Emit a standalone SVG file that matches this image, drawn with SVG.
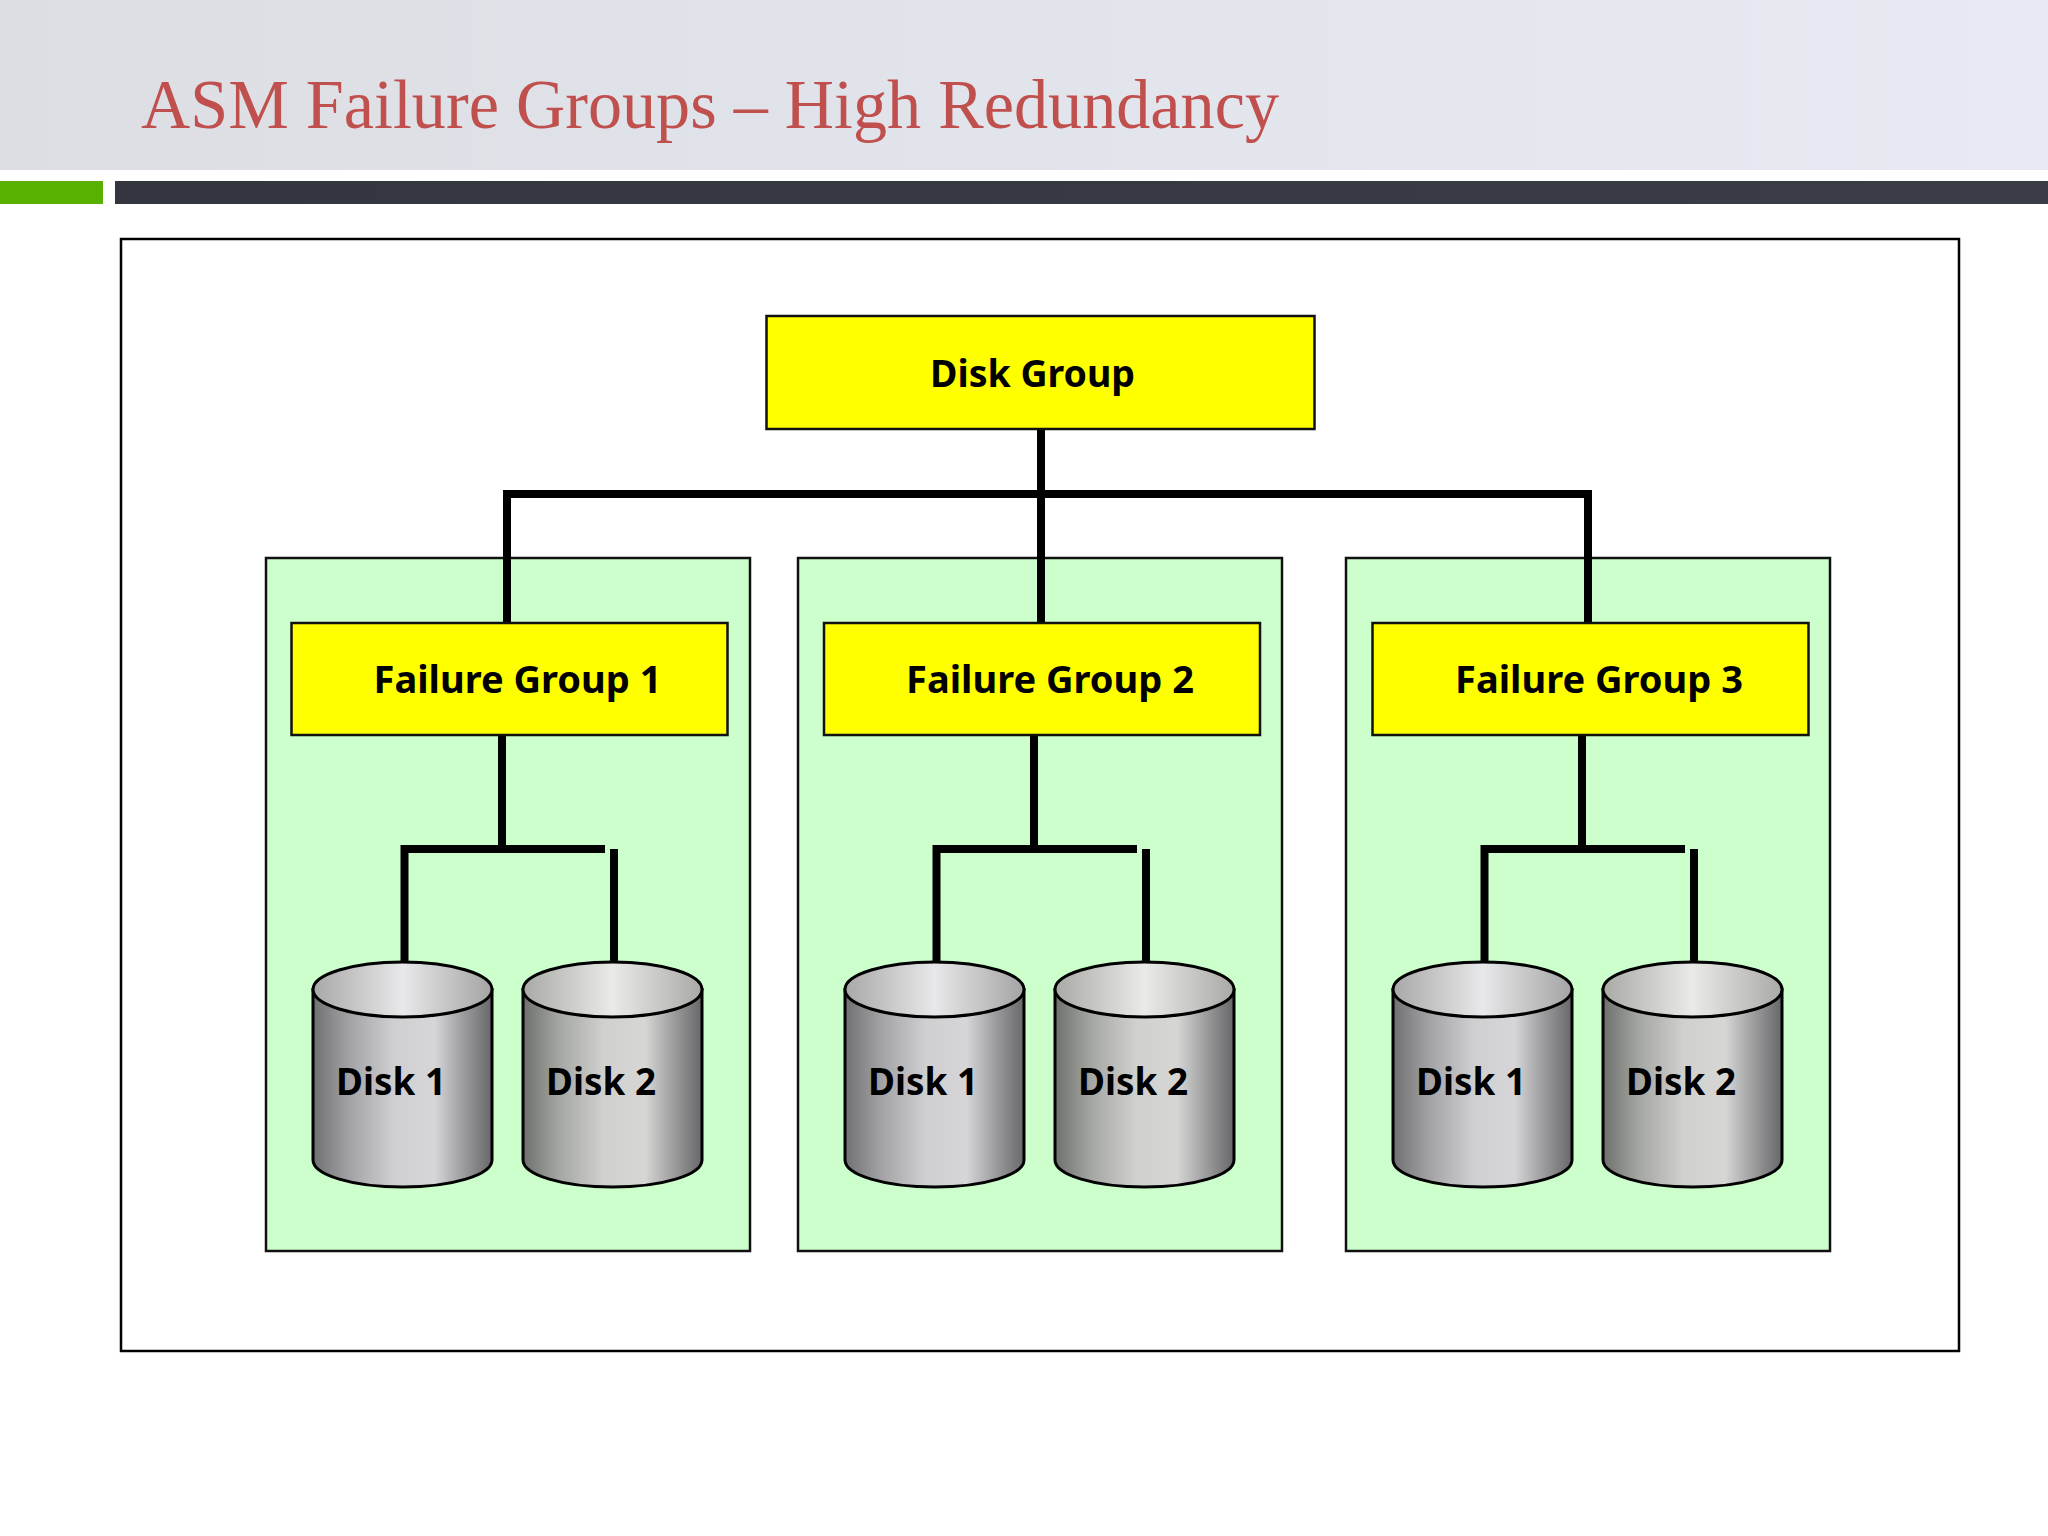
<svg xmlns="http://www.w3.org/2000/svg" width="2048" height="1536" viewBox="0 0 2048 1536">
<style>
.panel{fill:#ccffcc;stroke:#111;stroke-width:2.5}
.box{fill:#ffff00;stroke:#111;stroke-width:2.5}
.wire{fill:none;stroke:#000;stroke-width:8}
.lbl{font-family:"Noto Sans","Open Sans",sans-serif;font-weight:700;font-size:38px;fill:#000}
.cyl{stroke:#000;stroke-width:3}
</style>
<defs>
<linearGradient id="hdr" x1="0" y1="0" x2="1" y2="0"><stop offset="0" stop-color="#dcdee3"/><stop offset="0.5" stop-color="#e2e4ec"/><stop offset="1" stop-color="#e8eaf3"/></linearGradient>
<linearGradient id="bar" x1="0" y1="0" x2="1" y2="0"><stop offset="0" stop-color="#33363f"/><stop offset="1" stop-color="#3a3d45"/></linearGradient>
<linearGradient id="body1" x1="0" y1="0" x2="1" y2="0"><stop offset="0" stop-color="#707072"/><stop offset="0.2" stop-color="#a2a2a4"/><stop offset="0.45" stop-color="#cfcfd1"/><stop offset="0.68" stop-color="#d6d6d8"/><stop offset="0.85" stop-color="#99999b"/><stop offset="1" stop-color="#68686a"/></linearGradient>
<linearGradient id="body2" x1="0" y1="0" x2="1" y2="0"><stop offset="0" stop-color="#6d706c"/><stop offset="0.2" stop-color="#a4a6a2"/><stop offset="0.45" stop-color="#d0d1ce"/><stop offset="0.68" stop-color="#d6d7d5"/><stop offset="0.85" stop-color="#9a9a9b"/><stop offset="1" stop-color="#67676a"/></linearGradient>
<linearGradient id="top1" x1="0" y1="0" x2="1" y2="0"><stop offset="0" stop-color="#a8a8a8"/><stop offset="0.5" stop-color="#e8e8ea"/><stop offset="1" stop-color="#a4a4a4"/></linearGradient>
<linearGradient id="top2" x1="0" y1="0" x2="1" y2="0"><stop offset="0" stop-color="#a9aaa6"/><stop offset="0.5" stop-color="#eaeae8"/><stop offset="1" stop-color="#a9a9a6"/></linearGradient>
<g id="disk1"><path class="cyl" fill="url(#body1)" d="M313 989.5V1160C313 1175 353 1187 402.5 1187S492 1175 492 1160V989.5Z"/><ellipse class="cyl" fill="url(#top1)" cx="402.5" cy="989.5" rx="89.5" ry="27.5"/></g>
<g id="disk2"><path class="cyl" fill="url(#body2)" d="M523 989.5V1160C523 1175 563 1187 612.5 1187S702 1175 702 1160V989.5Z"/><ellipse class="cyl" fill="url(#top2)" cx="612.5" cy="989.5" rx="89.5" ry="27.5"/></g>
</defs>
<rect width="2048" height="1536" fill="#fff"/>
<g id="header">
<rect width="2048" height="170" fill="url(#hdr)"/>
<rect x="0" y="181" width="103" height="23" fill="#58b000"/>
<rect x="115" y="181" width="1933" height="23" fill="url(#bar)"/>
<text x="141" y="128" font-family="'Liberation Serif',serif" font-size="70" fill="#c0504d" textLength="1138" lengthAdjust="spacingAndGlyphs">ASM Failure Groups – High Redundancy</text>
</g>
<rect id="frame" x="121" y="239" width="1838" height="1112" fill="none" stroke="#000" stroke-width="2.5"/>
<g id="panel1"><rect class="panel" x="266" y="558" width="484" height="693"/></g>
<g id="panel2"><rect class="panel" x="798" y="558" width="484" height="693"/></g>
<g id="panel3"><rect class="panel" x="1346" y="558" width="484" height="693"/></g>
<g id="connectors" class="wire">
<path d="M1041 429V623M507 623V494H1588V623"/>
<path d="M502 735V849M404.500 962V849H605M614 849V962"/>
<path d="M1034 735V849M936.500 962V849H1137M1146 849V962"/>
<path d="M1582 735V849M1484.500 962V849H1685M1694 849V962"/>
</g>
<g id="disk-group"><rect class="box" x="766.500" y="316" width="548" height="113"/><text class="lbl" x="930" y="387" textLength="205" lengthAdjust="spacingAndGlyphs">Disk Group</text></g>
<g id="failure-group-1"><rect class="box" x="291.500" y="623" width="436" height="112"/><text class="lbl" x="373.500" y="693" textLength="288" lengthAdjust="spacingAndGlyphs">Failure Group 1</text></g>
<g id="failure-group-2"><rect class="box" x="824" y="623" width="436" height="112"/><text class="lbl" x="906" y="693" textLength="288" lengthAdjust="spacingAndGlyphs">Failure Group 2</text></g>
<g id="failure-group-3"><rect class="box" x="1372.500" y="623" width="436" height="112"/><text class="lbl" x="1455" y="693" textLength="288" lengthAdjust="spacingAndGlyphs">Failure Group 3</text></g>
<g id="fg1-disk1"><use href="#disk1"/><text class="lbl" x="336" y="1095" textLength="110" lengthAdjust="spacingAndGlyphs">Disk 1</text></g>
<g id="fg1-disk2"><use href="#disk2"/><text class="lbl" x="546" y="1095" textLength="110" lengthAdjust="spacingAndGlyphs">Disk 2</text></g>
<g id="fg2-disk1"><use href="#disk1" x="532"/><text class="lbl" x="868" y="1095" textLength="110" lengthAdjust="spacingAndGlyphs">Disk 1</text></g>
<g id="fg2-disk2"><use href="#disk2" x="532"/><text class="lbl" x="1078" y="1095" textLength="110" lengthAdjust="spacingAndGlyphs">Disk 2</text></g>
<g id="fg3-disk1"><use href="#disk1" x="1080"/><text class="lbl" x="1416" y="1095" textLength="110" lengthAdjust="spacingAndGlyphs">Disk 1</text></g>
<g id="fg3-disk2"><use href="#disk2" x="1080"/><text class="lbl" x="1626" y="1095" textLength="110" lengthAdjust="spacingAndGlyphs">Disk 2</text></g>
</svg>
